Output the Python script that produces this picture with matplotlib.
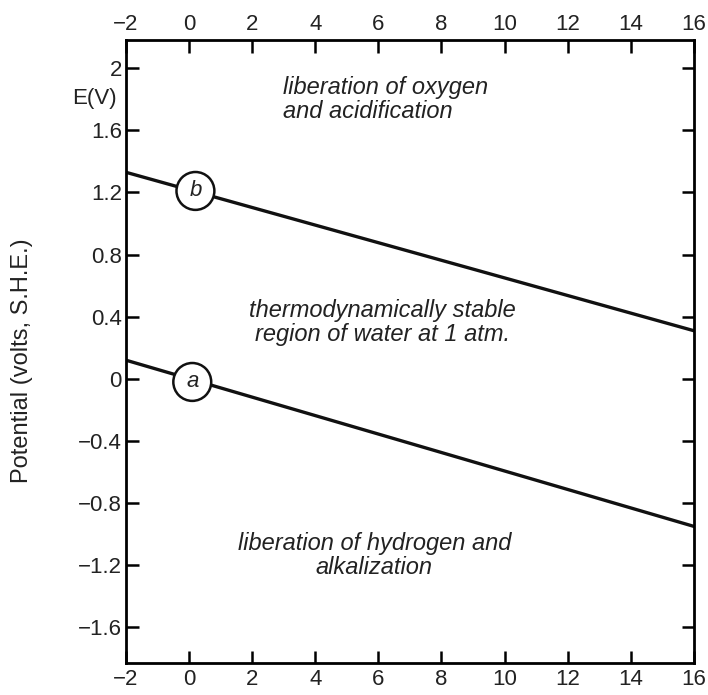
import numpy as np
import matplotlib.pyplot as plt

plt.rcParams['font.family'] = ['Liberation Sans', 'DejaVu Sans']

# pH range and equilibrium lines (E in volts vs S.H.E.)
ph = [-2, 16]
line_a = [0.12, -0.95]   # hydrogen line
line_b = [1.33, 0.31]    # oxygen line
labels = ['a', 'b']
label_pos = [(0.1, -0.02), (0.2, 1.21)]

xticks = list(range(-2, 17, 2))
yticks = [-1.6, -1.2, -0.8, -0.4, 0, 0.4, 0.8, 1.2, 1.6, 2]
ytick_labels = ['\u22121.6', '\u22121.2', '\u22120.8', '\u22120.4', '0', '0.4', '0.8', '1.2', '1.6', '2']
xtick_labels = ['\u22122'] + [str(v) for v in xticks[1:]]

fig = plt.figure(figsize=(7.08, 6.95), dpi=100)
ax = fig.add_axes([0.178, 0.046, 0.802, 0.896])

ax.plot(ph, line_a, color='#111111', lw=2.4, zorder=2)
ax.plot(ph, line_b, color='#111111', lw=2.4, zorder=2)

for lab, (x, y) in zip(labels, label_pos):
    ax.text(x, y, lab, fontsize=16, style='italic', ha='center', va='center',
            color='#222222', zorder=3,
            bbox=dict(boxstyle='circle,pad=0.38', fc='white', ec='#111111', lw=1.8))

ax.set_xlim(-2, 16)
ax.set_ylim(-1.83, 2.18)
ax.set_xticks(xticks)
ax.set_xticklabels(xtick_labels)
ax.set_yticks(yticks)
ax.set_yticklabels(ytick_labels)
ax.tick_params(direction='in', length=9, width=1.8, labelsize=16,
               top=True, right=True, labeltop=True, labelcolor='#222222')
ax.tick_params(axis='x', pad=4)
ax.tick_params(axis='y', pad=3)

for s in ax.spines.values():
    s.set_linewidth(2)

ax.set_ylabel('Potential (volts, S.H.E.)', fontsize=17, color='#222222')
ax.yaxis.set_label_coords(-0.164, 0.485)

tstyle = dict(fontsize=17, style='italic', color='#222222', linespacing=1.05)
ax.text(2.98, 1.80, 'liberation of oxygen\nand acidification', ha='left', va='center', **tstyle)
ax.text(6.13, 0.36, 'thermodynamically stable\nregion of water at 1 atm.', ha='center', va='center',
        multialignment='center', **tstyle)
ax.text(5.87, -1.14, 'liberation of hydrogen and\nalkalization', ha='center', va='center',
        multialignment='center', **tstyle)

ax.text(-0.017, 1.805, 'E(V)', transform=ax.get_yaxis_transform(), ha='right', va='center',
        fontsize=16, color='#222222')

fig.savefig('out.png', dpi=100)
